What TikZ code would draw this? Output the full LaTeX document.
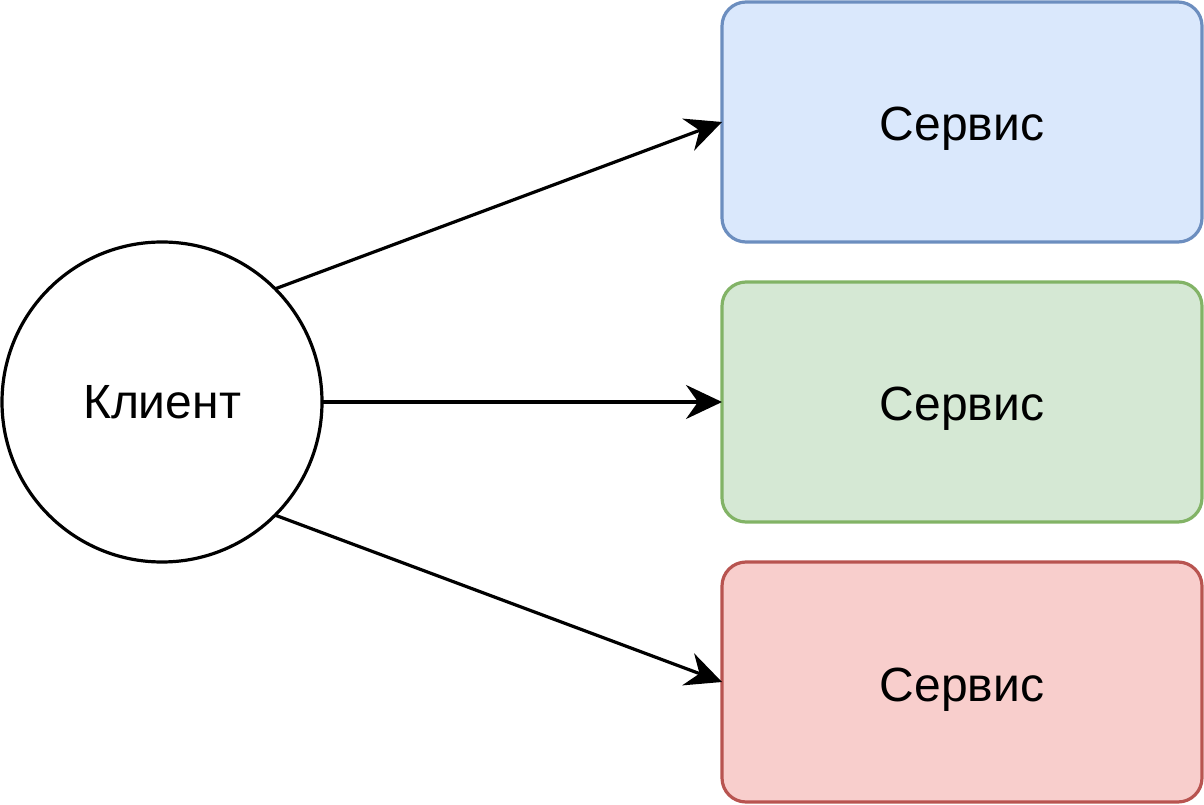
\documentclass[tikz,border=0pt]{standalone}
\usepackage{fontspec}
\setmainfont{Liberation Sans}
\usetikzlibrary{arrows.meta,positioning}

\definecolor{bluefill}{HTML}{DAE8FC}
\definecolor{blueline}{HTML}{6C8EBF}
\definecolor{greenfill}{HTML}{D5E8D4}
\definecolor{greenline}{HTML}{82B366}
\definecolor{redfill}{HTML}{F8CECC}
\definecolor{redline}{HTML}{B85450}

\begin{document}
\begin{tikzpicture}[
    x=1pt,y=1pt,
    node distance=20pt and 20pt,
    font=\fontsize{24}{28}\selectfont,
    client/.style={draw,circle,line width=1.6pt,minimum size=160pt,inner sep=0pt,outer sep=0pt},
    service/.style={draw,rounded corners=12pt,line width=1.6pt,minimum width=240pt,minimum height=120pt,
        text height=22pt,text depth=3pt,outer sep=0pt,align=center},
    arrow/.style={line width=1.6pt,-{Stealth[length=18pt,width=17pt,inset=6pt]}}
]
    \useasboundingbox (0,0) rectangle (602,402);

    \node[client] (client) at (81,201) {Клиент};

    \node[service,fill=bluefill,draw=blueline] (srv1) at (481,341) {Сервис};
    \node[service,fill=greenfill,draw=greenline,below=of srv1] (srv2) {Сервис};
    \node[service,fill=redfill,draw=redline,below=of srv2] (srv3) {Сервис};

    \draw[arrow] (client.45) -- (srv1.west);
    \draw[arrow] (client.east) -- (srv2.west);
    \draw[arrow] (client.-45) -- (srv3.west);
\end{tikzpicture}
\end{document}
